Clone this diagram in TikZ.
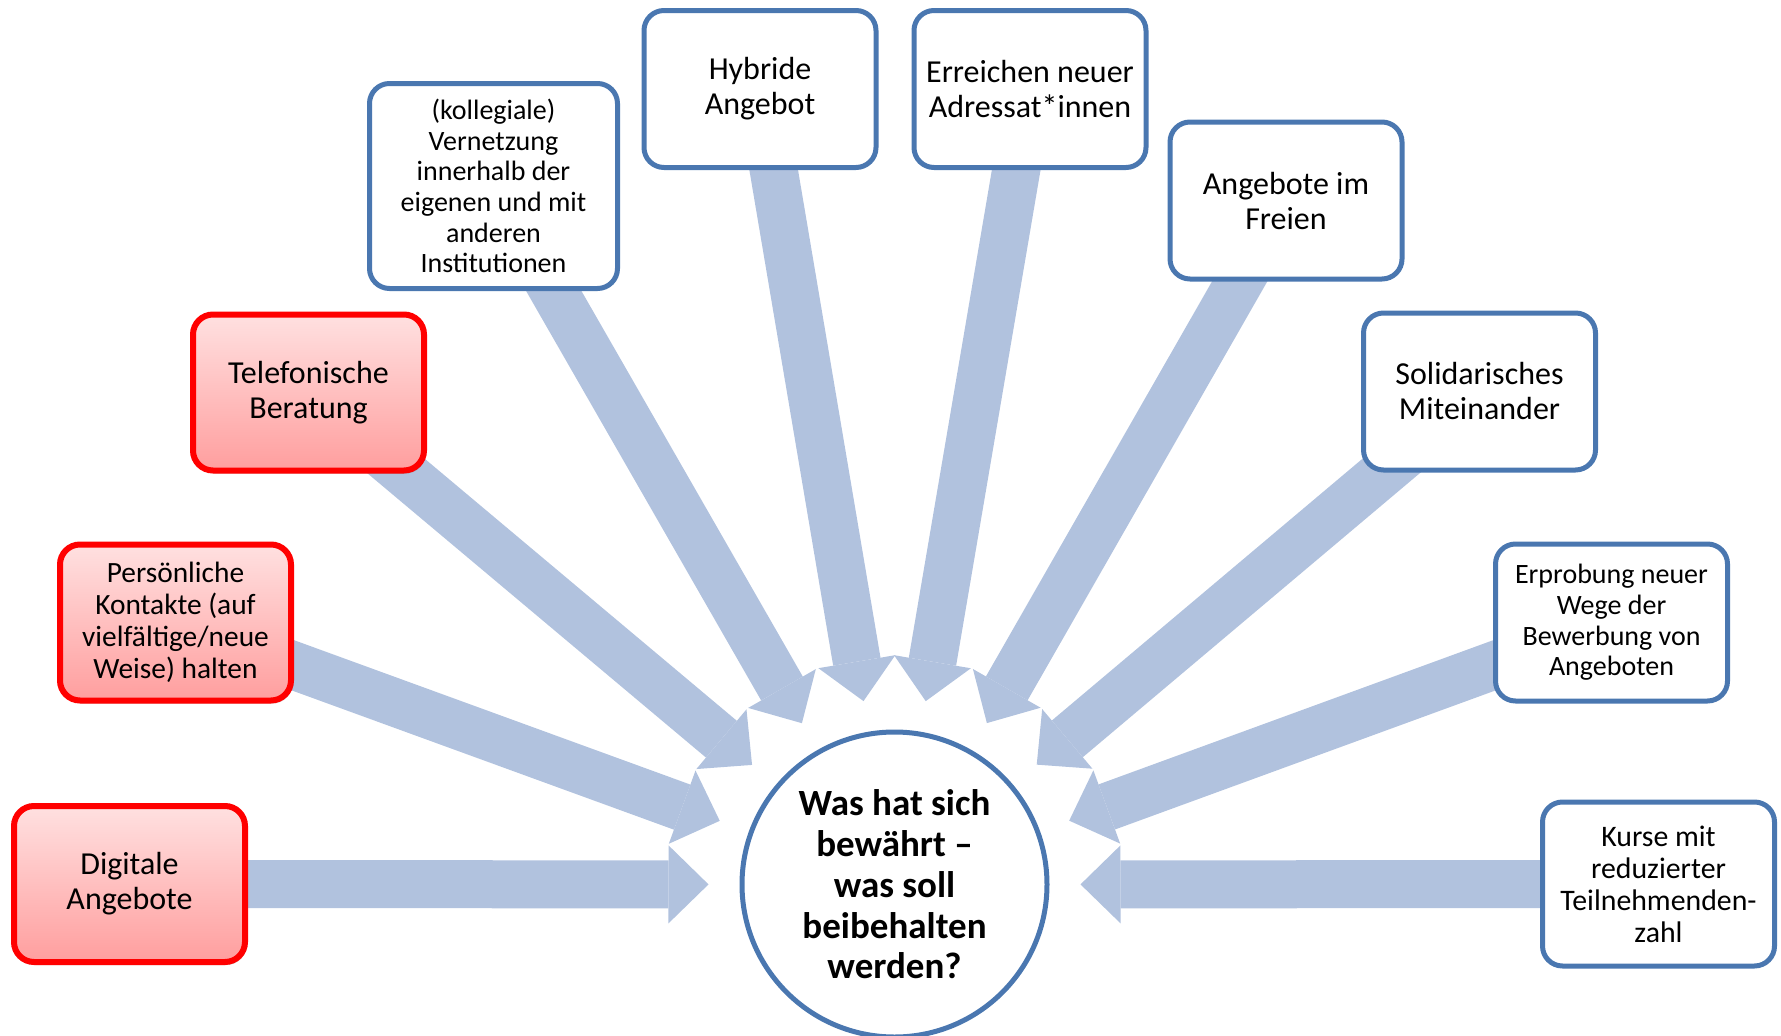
\documentclass[tikz,border=0pt]{standalone}
\usepackage{fontspec}
\setmainfont{Carlito}
\usetikzlibrary{arrows.meta,backgrounds,calc,shadows}
\definecolor{boxblau}{HTML}{4A77B0}
\definecolor{pfeilblau}{HTML}{B1C2DE}
\tikzset{
    gross/.style={font=\fontsize{32}{35}\selectfont},
    klein/.style={font=\fontsize{28}{30.7}\selectfont},
    blaubox/.style={draw=boxblau,line width=5pt,rounded corners=20pt,fill=white,
        align=center,inner sep=0pt,minimum width=232pt,minimum height=157pt},
    rotbox/.style={draw=red,line width=6pt,rounded corners=20pt,
        top color=red!12,bottom color=red!38,align=center,inner sep=0pt,
        minimum width=231pt,minimum height=156pt,
        drop shadow={shadow xshift=1.5pt,shadow yshift=-3pt,opacity=.3,fill=black!60}},
    pfeil/.style={color=pfeilblau,line width=48pt,
        -{Triangle[length=40pt,width=78pt,line width=0pt,fill=pfeilblau]}}
}

\begin{document}
\begin{tikzpicture}[x=1pt,y=-1pt]
    \useasboundingbox (0,0) rectangle (1781,1036);
    % mitte
    \node[draw=boxblau,line width=5pt,circle,fill=white,minimum size=305pt,inner sep=0pt,
        align=center,font=\bfseries\fontsize{37}{40.8}\selectfont]
        (mitte) at (894.5,884.5) {Was hat sich\\bewährt --\\was soll\\beibehalten\\werden?};
    % links, rot
    \node[rotbox,gross] (digital)  at (129.5,884)   {Digitale\\Angebote};
    \node[rotbox,font=\fontsize{29.4}{31.8}\selectfont] (kontakte) at (175.5,622.5)
        {Persönliche\\Kontakte (auf\\vielfältige/neue\\Weise) halten};
    \node[rotbox,gross] (telefon)  at (308.5,392.5) {Telefonische\\Beratung};
    % oben und rechts, blau
    \node[blaubox,klein,minimum width=248pt,minimum height=205pt] (vernetzung) at (493.5,186)
        {(kollegiale)\\Vernetzung\\innerhalb der\\eigenen und mit\\anderen\\Institutionen};
    \node[blaubox,gross] (hybrid)   at (760,89)     {Hybride\\Angebot};
    \node[blaubox,gross] (adressat) at (1030,89)    {Erreichen neuer\\Adressat*innen};
    \node[blaubox,gross] (freien)   at (1286,200.5) {Angebote im\\Freien};
    \node[blaubox,gross] (solidar)  at (1479.5,391.5) {Solidarisches\\Miteinander};
    \node[blaubox,klein] (erprobung) at (1611.5,622.5) {Erprobung neuer\\Wege der\\Bewerbung von\\Angeboten};
    \node[blaubox,font=\fontsize{29.8}{32}\selectfont,minimum height=164pt] (kurse) at (1658.5,884)
        {Kurse mit\\reduzierter\\Teilnehmenden-\\zahl};
    % pfeile zur mitte
    \begin{scope}[on background layer]
        \path[pfeil]
            (digital.center)    edge ($(mitte)!186pt!(digital)$)
            (kontakte.center)   edge ($(mitte)!186pt!(kontakte)$)
            (telefon.center)    edge ($(mitte)!186pt!(telefon)$)
            (vernetzung.center) edge ($(mitte)!186pt!(vernetzung)$)
            (hybrid.center)     edge ($(mitte)!186pt!(hybrid)$)
            (adressat.center)   edge ($(mitte)!186pt!(adressat)$)
            (freien.center)     edge ($(mitte)!186pt!(freien)$)
            (solidar.center)    edge ($(mitte)!186pt!(solidar)$)
            (erprobung.center)  edge ($(mitte)!186pt!(erprobung)$)
            (kurse.center)      edge ($(mitte)!186pt!(kurse)$);
    \end{scope}
\end{tikzpicture}
\end{document}
